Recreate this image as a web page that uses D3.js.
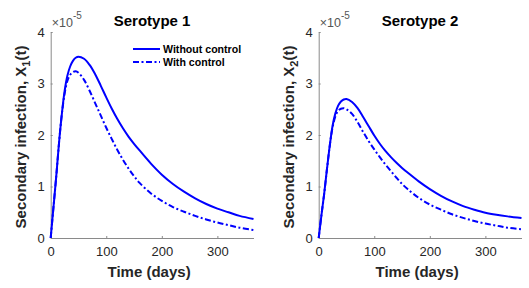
<!DOCTYPE html>
<html>
<head>
<meta charset="utf-8">
<script src="https://cdn.jsdelivr.net/npm/d3@7"></script>
<style>
  body { margin: 0; background: #fff; }
  svg { font-family: "Liberation Sans", Arial, sans-serif; }
  .axis path, .axis line { stroke: #8a8a8a; }
  .axis text { fill: #262626; font-size: 13px; }
</style>
</head>
<body>
<div id="chart"></div>
<script>
// time points (days)
const days = [0, 5, 10, 15, 20, 25, 30, 35, 40, 45, 50, 60, 70, 80, 90, 100, 110, 120, 130, 140,
              150, 160, 180, 200, 220, 240, 260, 280, 300, 320, 340, 365];

// secondary infection, in units of 1e-5
const s1Without = [0, 0.6, 1.2, 1.85, 2.4, 2.85, 3.15, 3.33, 3.44, 3.5, 3.52, 3.48, 3.36, 3.18, 2.96, 2.73,
                   2.51, 2.31, 2.13, 1.97, 1.83, 1.7, 1.45, 1.23, 1.05, 0.9, 0.77, 0.66, 0.57, 0.5, 0.43, 0.37];
const s1With    = [0, 0.6, 1.2, 1.85, 2.4, 2.8, 3.05, 3.17, 3.22, 3.24, 3.21, 3.07, 2.86, 2.62, 2.38, 2.14,
                   1.92, 1.71, 1.52, 1.35, 1.2, 1.07, 0.87, 0.72, 0.6, 0.51, 0.43, 0.36, 0.3, 0.25, 0.2, 0.155];
const s2Without = [0, 0.45, 0.87, 1.35, 1.8, 2.18, 2.42, 2.57, 2.65, 2.69, 2.7, 2.64, 2.52, 2.35, 2.17, 1.99,
                   1.83, 1.69, 1.57, 1.46, 1.36, 1.27, 1.1, 0.95, 0.82, 0.71, 0.62, 0.55, 0.49, 0.45, 0.42, 0.39];
const s2With    = [0, 0.45, 0.87, 1.35, 1.8, 2.15, 2.36, 2.47, 2.51, 2.52, 2.5, 2.41, 2.25, 2.06, 1.88, 1.72,
                   1.57, 1.43, 1.3, 1.17, 1.05, 0.95, 0.78, 0.65, 0.55, 0.46, 0.39, 0.33, 0.28, 0.24, 0.2, 0.17];

const xTicks = [0, 100, 200, 300];
const yTicks = [0, 1, 2, 3, 4];
const titles = ['Serotype 1', 'Serotype 2'];
const subs = ['1', '2'];
const legendLabels = ['Without control', 'With control'];

const w = 529, h = 288;
const svg = d3.select('#chart').append('svg')
    .attr('width', w)
    .attr('height', h);

const panels = [
    { left: 50.7, series: [s1Without, s1With], legend: true },
    { left: 318.7, series: [s2Without, s2With], legend: false }
];

const y = d3.scaleLinear().domain([0, 4]).range([238, 32]);
const dashes = [null, '6,2.5,2,2.5'];

panels.forEach((p, k) => {
    const x = d3.scaleLinear().domain([0, 365]).range([p.left, p.left + 202.8]);
    const g = svg.append('g');

    g.append('g')
        .attr('class', 'axis')
        .attr('transform', 'translate(0,' + y(0) + ')')
        .call(d3.axisBottom(x).tickValues(xTicks).tickFormat(d3.format('d'))
            .tickSize(-2).tickSizeOuter(0).tickPadding(9));

    g.append('g')
        .attr('class', 'axis')
        .attr('transform', 'translate(' + p.left + ',0)')
        .call(d3.axisLeft(y).tickValues(yTicks).tickFormat(d3.format('d'))
            .tickSize(-2).tickSizeOuter(0).tickPadding(6));

    // exponent label
    const ex = g.append('text')
        .attr('x', p.left + 1)
        .attr('y', 27)
        .attr('fill', '#555')
        .attr('font-size', 12.5);
    ex.append('tspan').text('\u00d710');
    ex.append('tspan').attr('dy', -8).attr('font-size', 10).text('-5');

    const line = d3.line()
        .x((d, i) => x(days[i]))
        .y(d => y(d))
        .curve(d3.curveCatmullRom.alpha(0.5));

    p.series.forEach((s, j) => {
        g.append('path')
            .datum(s)
            .attr('d', line)
            .attr('fill', 'none')
            .attr('stroke', '#0000ff')
            .attr('stroke-width', 2)
            .attr('stroke-dasharray', dashes[j]);
    });

    // title
    g.append('text')
        .attr('x', (x.range()[0] + x.range()[1]) / 2)
        .attr('y', 26)
        .attr('text-anchor', 'middle')
        .attr('font-weight', 'bold')
        .attr('font-size', 15)
        .text(titles[k]);

    // x label
    g.append('text')
        .attr('x', (x.range()[0] + x.range()[1]) / 2 - 3)
        .attr('y', 277)
        .attr('text-anchor', 'middle')
        .attr('font-weight', 'bold')
        .attr('font-size', 15)
        .attr('fill', '#262626')
        .text('Time (days)');

    // y label
    const yl = g.append('text')
        .attr('transform', 'translate(' + (p.left - 24.5) + ',137) rotate(-90)')
        .attr('text-anchor', 'middle')
        .attr('font-weight', 'bold')
        .attr('font-size', 15)
        .attr('fill', '#262626');
    yl.append('tspan').text('Secondary infection, X');
    yl.append('tspan').attr('dy', 4).attr('font-size', 11).text(subs[k]);
    yl.append('tspan').attr('dy', -4).text('(t)');

    if (p.legend) {
        const lg = g.append('g');
        legendLabels.forEach((lab, j) => {
            const ly = 49 + j * 13;
            lg.append('line')
                .attr('x1', 133).attr('x2', 160)
                .attr('y1', ly).attr('y2', ly)
                .attr('stroke', '#0000ff')
                .attr('stroke-width', 2)
                .attr('stroke-dasharray', dashes[j]);
            lg.append('text')
                .attr('x', 163)
                .attr('y', ly + 4)
                .attr('font-weight', 'bold')
                .attr('font-size', 10.6)
                .text(lab);
        });
    }
});
</script>
</body>
</html>
